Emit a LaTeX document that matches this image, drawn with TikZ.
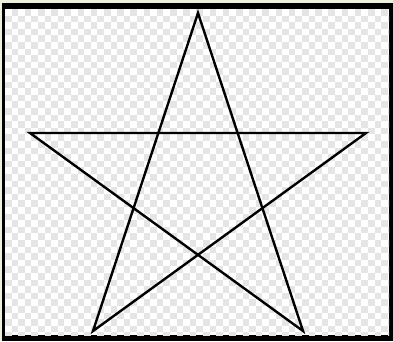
\documentclass[tikz,border=0pt]{standalone}
\definecolor{pale}{RGB}{238,240,222}
\definecolor{checkgray}{RGB}{229,229,229}
\tikzset{starline/.style={line width=2.4pt, line join=miter, draw=black}}
\begin{document}
\begin{tikzpicture}[x=1pt,y=-1pt]
\useasboundingbox (0,0) rectangle (393,341);
\fill[pale] (0,0) rectangle (393,341);
\fill[black] (1.5,3) rectangle (393,341);
\fill[white] (5,9) rectangle (389,335);
\begin{scope}
\clip (5,9) rectangle (389,335);
\foreach \i in {0,...,59}{
  \foreach \j in {0,...,50}{
    \pgfmathtruncatemacro\p{mod(\i+\j,2)}
    \ifnum\p=1
      \fill[checkgray] ({5+\i*6.6},{9+\j*6.6}) rectangle +(6.6,6.6);
    \fi
  }
}
\end{scope}
\coordinate (T) at (198,13);
\coordinate (L) at (30,133);
\coordinate (R) at (366,133);
\coordinate (BL) at (93,331);
\coordinate (BR) at (303,331);
\draw[starline] (T) -- (BL) -- (R) -- (L) -- (BR) -- cycle;
\end{tikzpicture}
\end{document}
